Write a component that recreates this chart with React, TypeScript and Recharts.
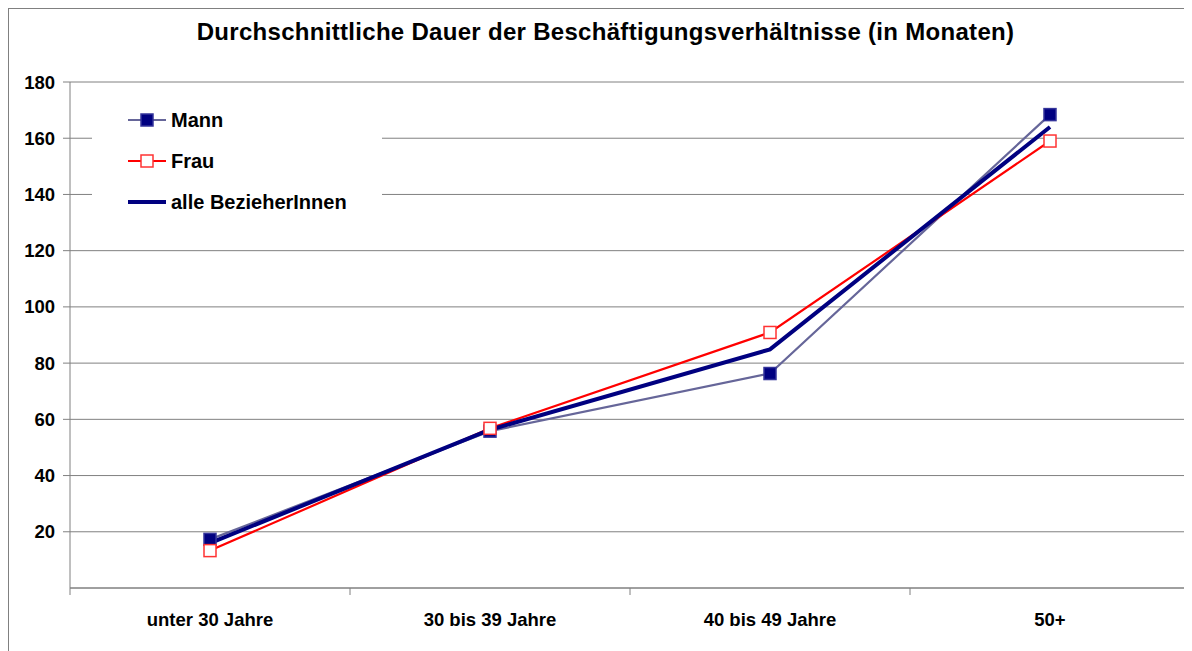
import { CartesianGrid, Line, LineChart, XAxis, YAxis } from 'recharts'

const ageGroups = ['unter 30 Jahre', '30 bis 39 Jahre', '40 bis 49 Jahre', '50+']
const mann = [17.3, 55.8, 76.3, 168.4]
const frau = [13.3, 56.8, 90.9, 159.0]
const alle = [16.0, 56.3, 84.9, 164.0]
const yTicks = [20, 40, 60, 80, 100, 120, 140, 160, 180]

const seriesNames = ['Mann', 'Frau', 'alle BezieherInnen']

const data = ageGroups.map((group, i) => ({ group, mann: mann[i], frau: frau[i], alle: alle[i] }))

const font = 'Arial, "Liberation Sans", sans-serif'
const grey = '#808080'

const chartWidth = 1183
const margin = { top: 73, right: 2, left: 0, bottom: 23 }
const yAxisWidth = 61
const bandWidth = (chartWidth - margin.left - margin.right - yAxisWidth) / ageGroups.length

function SquareDot({ cx, cy, fill, stroke }: { cx?: number; cy?: number; fill: string; stroke: string }) {
  if (cx == null || cy == null) return null
  return <rect x={cx - 6} y={cy - 6} width={12} height={12} fill={fill} stroke={stroke} strokeWidth={1.5} />
}

// category label plus Excel-style tick marks on the band boundaries
function CategoryTick({ x, y, payload, index }: any) {
  const axisY = y - 25
  const last = index === ageGroups.length - 1
  return (
    <g>
      <line x1={x - bandWidth / 2} x2={x - bandWidth / 2} y1={axisY} y2={axisY + 7} stroke={grey} />
      {last && <line x1={x + bandWidth / 2} x2={x + bandWidth / 2} y1={axisY} y2={axisY + 7} stroke={grey} />}
      <text x={x} y={y} dy="0.71em" textAnchor="middle" fontFamily={font} fontSize={18.5} fontWeight={700} fill="#000">
        {payload.value}
      </text>
    </g>
  )
}

function LegendSample({ kind }: { kind: number }) {
  return (
    <svg width={40} height={20} style={{ display: 'block' }}>
      {kind === 0 && (
        <>
          <line x1={1} x2={39} y1={10} y2={10} stroke="#666699" strokeWidth={2} />
          <rect x={14} y={4} width={12} height={12} fill="#000080" stroke="#33339a" strokeWidth={1.5} />
        </>
      )}
      {kind === 1 && (
        <>
          <line x1={1} x2={39} y1={10} y2={10} stroke="#ff0000" strokeWidth={2} />
          <rect x={14} y={4} width={12} height={12} fill="#ffffff" stroke="#ff3333" strokeWidth={1.5} />
        </>
      )}
      {kind === 2 && <line x1={1} x2={39} y1={10} y2={10} stroke="#000080" strokeWidth={4} />}
    </svg>
  )
}

export default function App() {
  return (
    <div style={{ position: 'relative', width: 1184, height: 643, borderTop: `1px solid ${grey}`, borderLeft: `1px solid ${grey}`, fontFamily: font }}>
      <div style={{ position: 'absolute', left: 5, top: 11, width: 1183, textAlign: 'center', fontSize: 24, lineHeight: '24px', fontWeight: 700, letterSpacing: 0.3, color: '#000' }}>
        Durchschnittliche Dauer der Beschäftigungsverhältnisse (in Monaten)
      </div>
      <LineChart width={chartWidth} height={642} data={data} margin={margin}>
        <CartesianGrid horizontal vertical={false} stroke={grey} strokeWidth={1} />
        <XAxis dataKey="group" scale="band" height={40} axisLine={{ stroke: grey }} tickLine={false} tickSize={0} tickMargin={25} interval={0}
          tick={<CategoryTick />} />
        <YAxis domain={[0, 180]} ticks={yTicks} width={yAxisWidth} axisLine={{ stroke: grey }} tickLine={{ stroke: grey }} tickSize={7} tickMargin={8}
          tick={{ fontFamily: font, fontSize: 18.5, fontWeight: 700, fill: '#000' }} />
        <Line dataKey="mann" name={seriesNames[0]} stroke="#666699" strokeWidth={2.2} dot={false} isAnimationActive={false} />
        <Line dataKey="frau" name={seriesNames[1]} stroke="#ff0000" strokeWidth={2.2} dot={false} isAnimationActive={false} />
        <Line dataKey="alle" name={seriesNames[2]} stroke="#000080" strokeWidth={4} dot={false} isAnimationActive={false} />
        <Line dataKey="mann" stroke="none" legendType="none" isAnimationActive={false}
          dot={(p: any) => <SquareDot key={`m${p.index}`} cx={p.cx} cy={p.cy} fill="#000080" stroke="#33339a" />} />
        <Line dataKey="frau" stroke="none" legendType="none" isAnimationActive={false}
          dot={(p: any) => <SquareDot key={`f${p.index}`} cx={p.cx} cy={p.cy} fill="#ffffff" stroke="#ff3333" />} />
      </LineChart>
      <div style={{ position: 'absolute', left: 83, top: 88, width: 290, height: 134, background: '#fff' }}>
        {seriesNames.map((name, i) => (
          <div key={name} style={{ position: 'absolute', left: 35, top: 23 + i * 41 - 10, display: 'flex', alignItems: 'center', height: 20 }}>
            <LegendSample kind={i} />
            <span style={{ marginLeft: 4, fontSize: 20, fontWeight: 700, color: '#000', whiteSpace: 'nowrap' }}>{name}</span>
          </div>
        ))}
      </div>
    </div>
  )
}
